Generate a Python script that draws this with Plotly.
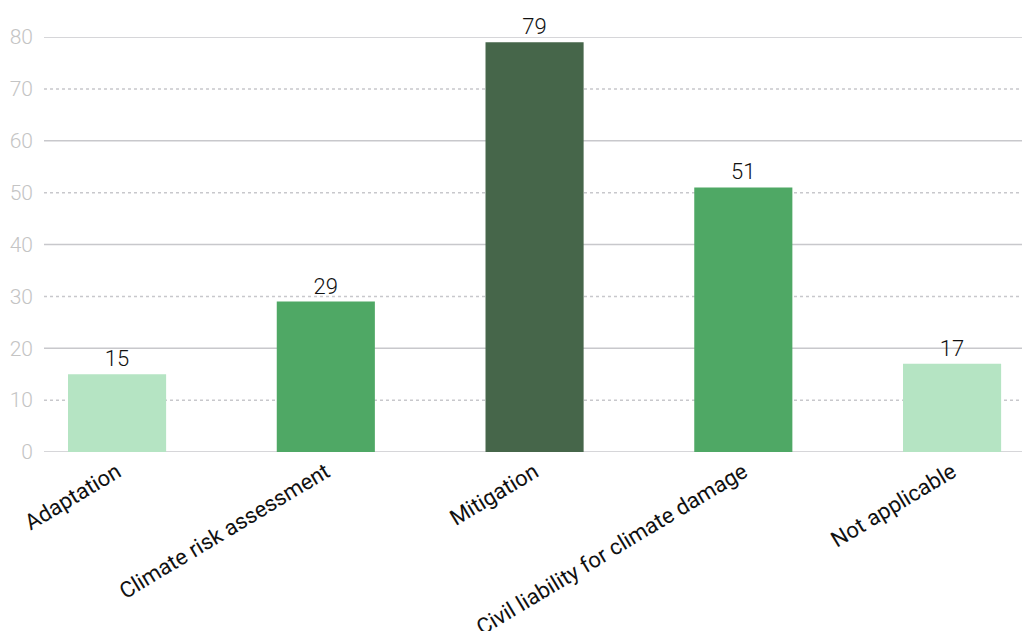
import plotly.graph_objects as go

categories = ["Adaptation", "Climate risk assessment", "Mitigation",
              "Civil liability for climate damage", "Not applicable"]
counts = [15, 29, 79, 51, 17]
bar_colors = ["#b5e4c3", "#4fa865", "#46664a", "#4fa865", "#b5e4c3"]
tick_values = [0, 10, 20, 30, 40, 50, 60, 70, 80]

fig = go.Figure(
    go.Bar(
        x=list(range(len(categories))),
        y=counts,
        width=0.47,
        marker=dict(color=bar_colors, line=dict(width=0)),
        text=[str(v) for v in counts],
        textposition="outside",
        textfont=dict(family="Roboto", size=22, color="#111111", weight=300),
        cliponaxis=False,
    )
)

# Solid lines at multiples of 20, dashed lines in between
for v in tick_values:
    fig.add_shape(
        type="line", xref="paper", yref="y", x0=0, x1=1, y0=v, y1=v,
        line=dict(color="#c8c8cc", width=1.5,
                  dash="solid" if v % 20 == 0 else "3px,3px"),
        layer="below",
    )

fig.update_layout(
    width=1022, height=631,
    margin=dict(l=44, r=0, t=37, b=179),
    plot_bgcolor="white", paper_bgcolor="white",
    showlegend=False,
    font=dict(family="Roboto"),
    xaxis=dict(
        range=[-0.35, 4.335],
        tickmode="array",
        tickvals=list(range(len(categories))),
        ticktext=categories,
        tickangle=-31,
        tickfont=dict(family="Roboto", size=22, color="#111111", weight=400),
        showgrid=False, zeroline=False, showline=False, ticks="",
        automargin=False, ticklabelstandoff=2,
    ),
    yaxis=dict(
        range=[0, 80],
        tickmode="array",
        tickvals=tick_values,
        tickfont=dict(family="Roboto", size=21, color="#c4c4c4", weight=300),
        showgrid=False, zeroline=False, showline=False,
        ticks="", ticklabelstandoff=10, automargin=False,
    ),
)

fig.write_html("out.html")
